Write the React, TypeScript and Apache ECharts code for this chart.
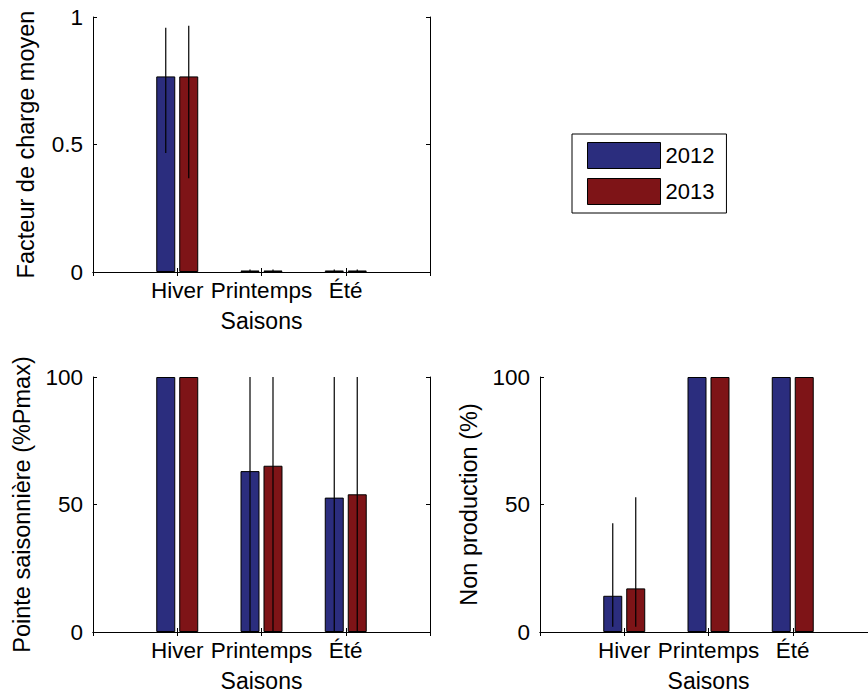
import React, { useEffect, useRef } from "react";
import * as echarts from "echarts";

// ---- data ----
const seasons = ["Hiver", "Printemps", "Été"];
const years = ["2012", "2013"];
const xAxisName = "Saisons";

// Facteur de charge moyen
const fc2012 = [0.767, 0.006, 0.006];
const fc2013 = [0.767, 0.006, 0.006];
const fc2012Low = [0.467, 0.002, 0.002];
const fc2012High = [0.958, 0.01, 0.01];
const fc2013Low = [0.368, 0.002, 0.002];
const fc2013High = [0.966, 0.01, 0.01];

// Pointe saisonnière (%Pmax)
const pt2012 = [100, 63.1, 52.7];
const pt2013 = [100, 65.2, 54.0];
const pt2012Low = [100, -5, -8];
const pt2012High = [100, 131, 113];
const pt2013Low = [100, -4, -6];
const pt2013High = [100, 134, 114];

// Non production (%)
const np2012 = [14.2, 100, 100];
const np2013 = [17.1, 100, 100];
const np2012Low = [2.1, 100, 100];
const np2012High = [42.6, 100, 100];
const np2013Low = [2.1, 100, 100];
const np2013High = [52.8, 100, 100];

const yTicks1 = [0, 0.5, 1];
const yTicks2 = [0, 50, 100];

const FONT = "'Liberation Sans', Arial, Helvetica, sans-serif";
const BLUE = "#2b2d7e";
const RED = "#7e1417";
const BAR_W = 19;
const BAR_GAP = 0.21;

const panels = [
  {
    name: "Facteur de charge moyen",
    ticks: yTicks1,
    v: [fc2012, fc2013],
    lo: [fc2012Low, fc2013Low],
    hi: [fc2012High, fc2013High],
    grid: { left: 93, top: 17, width: 337, height: 255 },
    nameGap: 55,
  },
  {
    name: "Pointe saisonnière (%Pmax)",
    ticks: yTicks2,
    v: [pt2012, pt2013],
    lo: [pt2012Low, pt2013Low],
    hi: [pt2012High, pt2013High],
    grid: { left: 93, top: 377, width: 337, height: 255 },
    nameGap: 59,
  },
  {
    name: "Non production (%)",
    ticks: yTicks2,
    v: [np2012, np2013],
    lo: [np2012Low, np2013Low],
    hi: [np2012High, np2013High],
    grid: { left: 540, top: 377, width: 337, height: 255 },
    nameGap: 59,
  },
];

const cats = ["", ...seasons, " "];

function buildOption() {
  const grid: any[] = [];
  const xAxis: any[] = [];
  const yAxis: any[] = [];
  const series: any[] = [];
  const textStyle = { fontFamily: FONT, fontSize: 22.5, color: "#000" };
  const xNameStyle = { fontFamily: FONT, fontSize: 23, color: "#000" };
  const yNameStyle = { fontFamily: FONT, fontSize: 23.5, color: "#000" };
  const line = { show: true, lineStyle: { color: "#000", width: 1 } };
  const tick = { show: true, inside: true, length: 4, lineStyle: { color: "#000", width: 1 } };

  panels.forEach((p, g) => {
    grid.push({ ...p.grid });
    const t = p.ticks;
    const interval = t[1] - t[0];
    xAxis.push({
      type: "category",
      gridIndex: g,
      data: cats,
      boundaryGap: false,
      position: "bottom",
      axisLine: line,
      axisTick: { ...tick, interval: 0 },
      axisLabel: { ...textStyle, interval: 0, margin: 7 },
      splitLine: { show: false },
      name: xAxisName,
      nameLocation: "middle",
      nameGap: 37,
      nameTextStyle: xNameStyle,
    });
    xAxis.push({
      type: "category",
      gridIndex: g,
      data: cats,
      boundaryGap: false,
      position: "top",
      axisLine: line,
      axisTick: { ...tick, interval: 0 },
      axisLabel: { show: false },
      splitLine: { show: false },
    });
    yAxis.push({
      type: "value",
      gridIndex: g,
      min: t[0],
      max: t[t.length - 1],
      interval,
      position: "left",
      axisLine: line,
      axisTick: tick,
      axisLabel: { ...textStyle, margin: 10 },
      splitLine: { show: false },
      name: p.name,
      nameLocation: "middle",
      nameRotate: 90,
      nameGap: p.nameGap,
      nameTextStyle: yNameStyle,
    });
    yAxis.push({
      type: "value",
      gridIndex: g,
      min: t[0],
      max: t[t.length - 1],
      interval,
      position: "right",
      axisLine: line,
      axisTick: tick,
      axisLabel: { show: false },
      splitLine: { show: false },
    });

    years.forEach((yr, s) => {
      series.push({
        type: "bar",
        name: yr,
        xAxisIndex: 2 * g,
        yAxisIndex: 2 * g,
        data: ["-", ...p.v[s], "-"],
        barWidth: BAR_W,
        barGap: BAR_GAP * 100 + "%",
        itemStyle: { color: s === 0 ? BLUE : RED, borderColor: "#000", borderWidth: 1 },
        emphasis: { disabled: true },
        silent: true,
      });
    });
    years.forEach((yr, s) => {
      const offset = ((s === 0 ? -1 : 1) * BAR_W * (1 + BAR_GAP)) / 2;
      series.push({
        type: "custom",
        name: yr + " err",
        xAxisIndex: 2 * g,
        yAxisIndex: 2 * g,
        clip: true,
        silent: true,
        z: 5,
        data: seasons.map((_, i) => [i + 1, p.lo[s][i], p.hi[s][i]]),
        renderItem: (params: any, api: any) => {
          const x = api.value(0);
          const a = api.coord([x, api.value(1)]);
          const b = api.coord([x, api.value(2)]);
          return {
            type: "line",
            shape: { x1: a[0] + offset, y1: a[1], x2: b[0] + offset, y2: b[1] },
            style: { stroke: "#000", lineWidth: 1.2 },
          };
        },
      });
    });
  });

  return {
    animation: false,
    backgroundColor: "#fff",
    textStyle: { fontFamily: FONT },
    legend: {
      data: years,
      orient: "vertical",
      left: 572,
      top: 134,
      padding: [8, 12, 8, 15],
      itemWidth: 73,
      itemHeight: 26,
      itemGap: 9,
      icon: "rect",
      borderColor: "#000",
      borderWidth: 1,
      backgroundColor: "#fff",
      selectedMode: false,
      itemStyle: { borderColor: "#000", borderWidth: 1 },
      textStyle: { fontFamily: FONT, fontSize: 22, color: "#000" },
    },
    grid,
    xAxis,
    yAxis,
    series,
  };
}

export default function App() {
  const ref = useRef<HTMLDivElement>(null);
  useEffect(() => {
    if (!ref.current) return;
    const chart = echarts.init(ref.current, undefined, { renderer: "svg" });
    chart.setOption(buildOption() as any);
    return () => chart.dispose();
  }, []);
  return (
    <div
      style={{
        position: "fixed",
        left: 0,
        top: 0,
        width: 868,
        height: 697,
        overflow: "hidden",
        background: "#fff",
      }}
    >
      <div ref={ref} style={{ width: 900, height: 697 }} />
    </div>
  );
}
